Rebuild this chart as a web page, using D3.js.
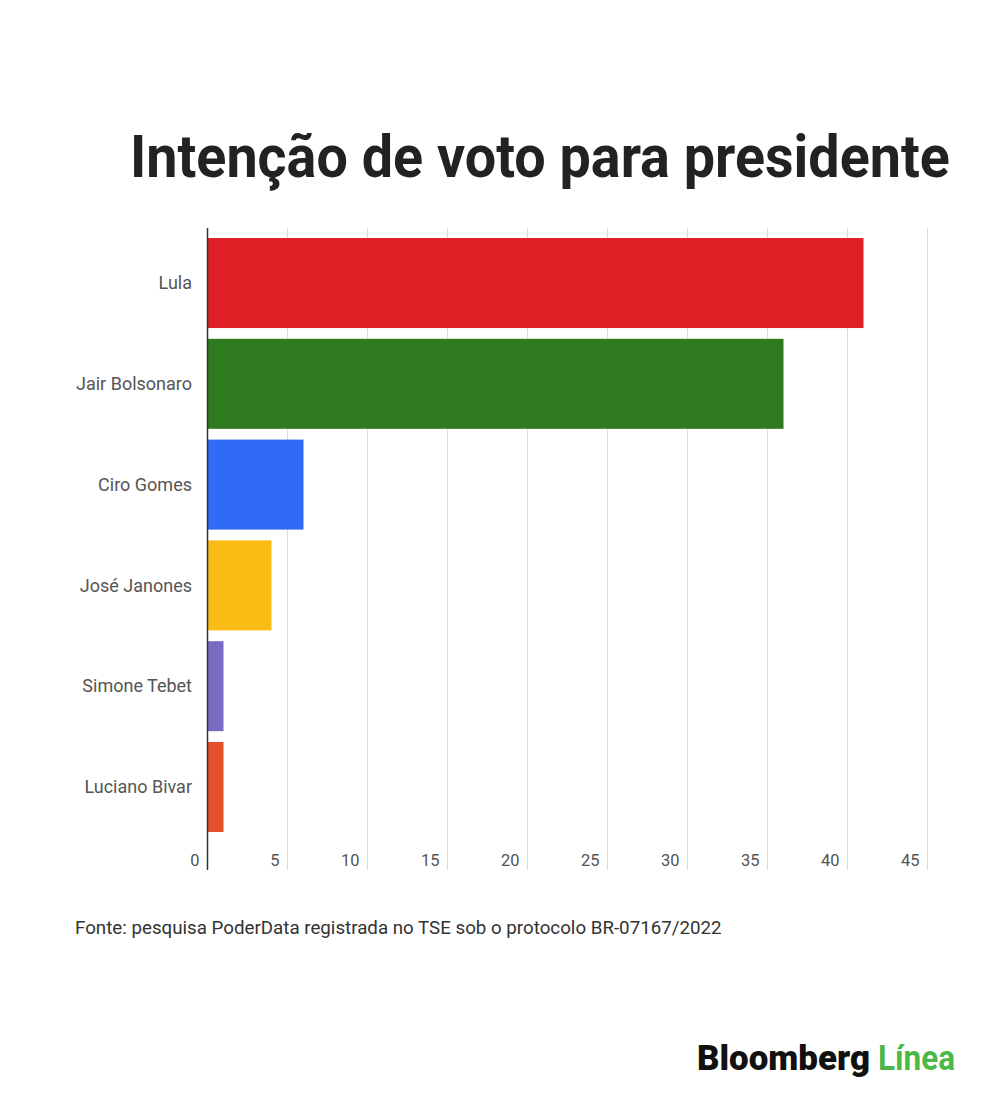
<!DOCTYPE html>
<html>
    <head>
        <script src="https://d3js.org/d3.v7.min.js"></script>
        <style>
            body{margin:0;background:#fff;}
            text{font-family:Roboto, "Noto Sans", sans-serif;}
        </style>
    </head>
    <body>
        <svg height="1102" width="1000" id="chart"></svg>
        <script>
            // data
            const candidates=["Lula", "Jair Bolsonaro", "Ciro Gomes", "José Janones", "Simone Tebet", "Luciano Bivar"];
            const votes=[41, 36, 6, 4, 1, 1];
            const barColors=["#e11f26", "#2e7a1f", "#2f6bf5", "#f9bb14", "#7b6ac3", "#e5502a"];
            const ticks=[0, 5, 10, 15, 20, 25, 30, 35, 40, 45];

            let svg=d3.select("#chart");
            svg.append("rect").attr("width", 1000).attr("height", 1102).attr("fill", "#fff");

            let x=d3.scaleLinear().domain([0, 45]).range([207.5, 927.5]);
            let y=d3.scaleBand().domain(candidates).range([233, 837]).paddingInner(0.107).paddingOuter(0.05);
            let gridTop=228, gridBottom=870;

            // stretch/squeeze a text horizontally to a target width (the reference uses a narrow face)
            const fitWidth=function(sel, left, base, w){
                let natural=sel.node().getComputedTextLength();
                let k=w/natural;
                sel.attr("x", 0).attr("y", 0)
                    .attr("transform", `translate(${left},${base}) scale(${k},1)`);
            };

            // title
            let title=svg.append("text")
                .style("font-size", "60px").style("font-weight", "700").style("fill", "#222")
                .text("Intenção de voto para presidente");
            fitWidth(title, 130, 177, 820);

            // gridlines + tick labels
            let grid=svg.append("g");
            grid.selectAll("line").data(ticks.filter(t=>t>0)).join("line")
                .attr("x1", d=>x(d)).attr("x2", d=>x(d))
                .attr("y1", gridTop).attr("y2", gridBottom)
                .style("stroke", "#dcdcdc").style("stroke-width", 1);
            grid.selectAll("text").data(ticks).join("text")
                .attr("x", d=>x(d)-8).attr("y", 866)
                .attr("text-anchor", "end")
                .style("font-size", "16.5px").style("fill", "#555")
                .text(d=>d);

            // bars
            svg.append("g").selectAll("rect").data(candidates).join("rect")
                .attr("x", x(0))
                .attr("y", d=>y(d))
                .attr("width", (d, i)=>x(votes[i])-x(0))
                .attr("height", y.bandwidth())
                .style("fill", (d, i)=>barColors[i]);

            // zero axis
            svg.append("line")
                .attr("x1", x(0)).attr("x2", x(0))
                .attr("y1", gridTop).attr("y2", gridBottom)
                .style("stroke", "#333").style("stroke-width", 1.5);

            // category labels
            svg.append("g").selectAll("text").data(candidates).join("text")
                .attr("x", 192)
                .attr("y", d=>y(d)+y.bandwidth()/2)
                .attr("dy", "0.35em")
                .attr("text-anchor", "end")
                .style("font-size", "18px").style("fill", "#555")
                .text(d=>d);

            // source
            let source=svg.append("text")
                .style("font-size", "18.5px").style("fill", "#333")
                .text("Fonte: pesquisa PoderData registrada no TSE sob o protocolo BR-07167/2022");
            fitWidth(source, 75, 934, 647);

            // logo
            let logo1=svg.append("text")
                .style("font-size", "35px").style("font-weight", "900").style("fill", "#111")
                .text("Bloomberg");
            fitWidth(logo1, 697, 1070, 173);
            let logo2=svg.append("text")
                .style("font-size", "35px").style("font-weight", "700").style("fill", "#4cb848")
                .text("Línea");
            fitWidth(logo2, 878, 1070, 77);
        </script>
    </body>
</html>
